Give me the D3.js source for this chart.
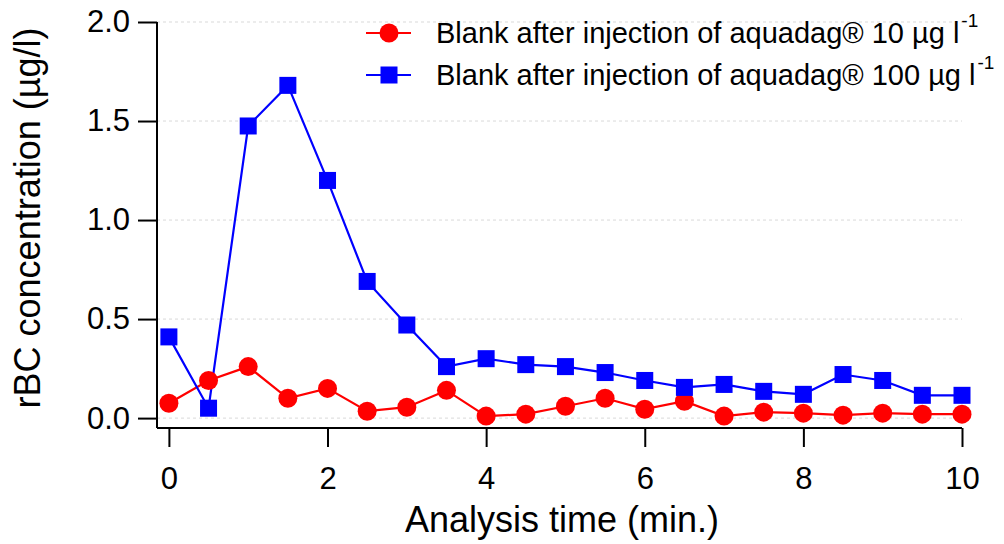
<!DOCTYPE html>
<html><head><meta charset="utf-8">
<script src="https://cdn.jsdelivr.net/npm/d3@7"></script>
<style>body{margin:0;background:#fff}svg{display:block;font-family:"Liberation Sans",Arial,sans-serif}</style>
</head><body><svg id="c" width="1004" height="544"></svg>
<script>
const times = [0,0.5,1,1.5,2,2.5,3,3.5,4,4.5,5,5.5,6,6.5,7,7.5,8,8.5,9,9.5,10];
const red10 = [0.075,0.19,0.26,0.10,0.15,0.035,0.055,0.14,0.01,0.02,0.06,0.10,0.045,0.085,0.01,0.03,0.025,0.015,0.025,0.02,0.02];
const blue100 = [0.41,0.05,1.475,1.68,1.20,0.69,0.47,0.26,0.30,0.27,0.26,0.23,0.19,0.155,0.17,0.135,0.12,0.22,0.19,0.115,0.115];
const xTicks = [0,2,4,6,8,10];
const yTicks = [0,0.5,1.0,1.5,2.0];
const legendLabels = ["Blank after injection of aquadag® 10 µg l","Blank after injection of aquadag® 100 µg l"];

const svg = d3.select("#c");
const x = d3.scaleLinear().domain([-0.15,10]).range([157,962]);
const y = d3.scaleLinear().domain([-0.05,2.0]).range([428,22]);

// grid
svg.append("g").selectAll("line").data(yTicks).join("line")
  .attr("x1",157).attr("x2",962).attr("y1",d=>y(d)).attr("y2",d=>y(d))
  .attr("stroke","#d9d9d9").attr("stroke-width",1).attr("stroke-dasharray","3,3");

// axes
const yAxis = svg.append("g").attr("transform","translate(157,0)")
  .call(d3.axisLeft(y).tickValues(yTicks).tickFormat(d3.format(".1f")).tickSize(19).tickPadding(8));
const xAxis = svg.append("g").attr("transform","translate(0,428)")
  .call(d3.axisBottom(x).tickValues(xTicks).tickFormat(d3.format("d")).tickSize(19).tickPadding(20));
[yAxis,xAxis].forEach(a=>{
  a.select(".domain").attr("stroke","#000").attr("stroke-width",2);
  a.selectAll(".tick line").attr("stroke","#000").attr("stroke-width",2);
  a.selectAll(".tick text").attr("fill","#000").attr("font-size",31).attr("font-family","Liberation Sans, Arial, sans-serif");
});
xAxis.select(".domain").attr("d","M157,0H962");
yAxis.select(".domain").attr("d","M0,22V428");

// titles
svg.append("text").attr("x",562).attr("y",532).attr("text-anchor","middle")
  .attr("font-size",36).text("Analysis time (min.)");
svg.append("text").attr("transform","translate(40,218) rotate(-90)").attr("text-anchor","middle")
  .attr("font-size",36).text("rBC concentration (µg/l)");

const line = d3.line().x((d,i)=>x(times[i])).y(d=>y(d));
svg.append("path").datum(red10).attr("d",line).attr("fill","none").attr("stroke","#ff0000").attr("stroke-width",2.2);
svg.append("path").datum(blue100).attr("d",line).attr("fill","none").attr("stroke","#0000ff").attr("stroke-width",2.2);
svg.append("g").selectAll("circle").data(red10).join("circle")
  .attr("cx",(d,i)=>x(times[i])).attr("cy",d=>y(d)).attr("r",9.5).attr("fill","#ff0000");
const s=17;
svg.append("g").selectAll("rect").data(blue100).join("rect")
  .attr("x",(d,i)=>x(times[i])-s/2).attr("y",d=>y(d)-s/2).attr("width",s).attr("height",s).attr("fill","#0000ff");

// legend
const leg = svg.append("g");
const ly = [33,75];
const colors = ["#ff0000","#0000ff"];
legendLabels.forEach((t,i)=>{
  leg.append("line").attr("x1",366).attr("x2",411).attr("y1",ly[i]).attr("y2",ly[i]).attr("stroke",colors[i]).attr("stroke-width",2.2);
  if(i===0) leg.append("circle").attr("cx",389).attr("cy",ly[i]).attr("r",9.5).attr("fill",colors[i]);
  else leg.append("rect").attr("x",389-s/2).attr("y",ly[i]-s/2).attr("width",s).attr("height",s).attr("fill",colors[i]);
  const tx = leg.append("text").attr("x",436).attr("y",ly[i]+10).attr("font-size",29).attr("fill","#000");
  tx.append("tspan").text(t);
  tx.append("tspan").attr("dx",2).attr("dy",-16).attr("font-size",19).text("-1");
});
</script></body></html>
